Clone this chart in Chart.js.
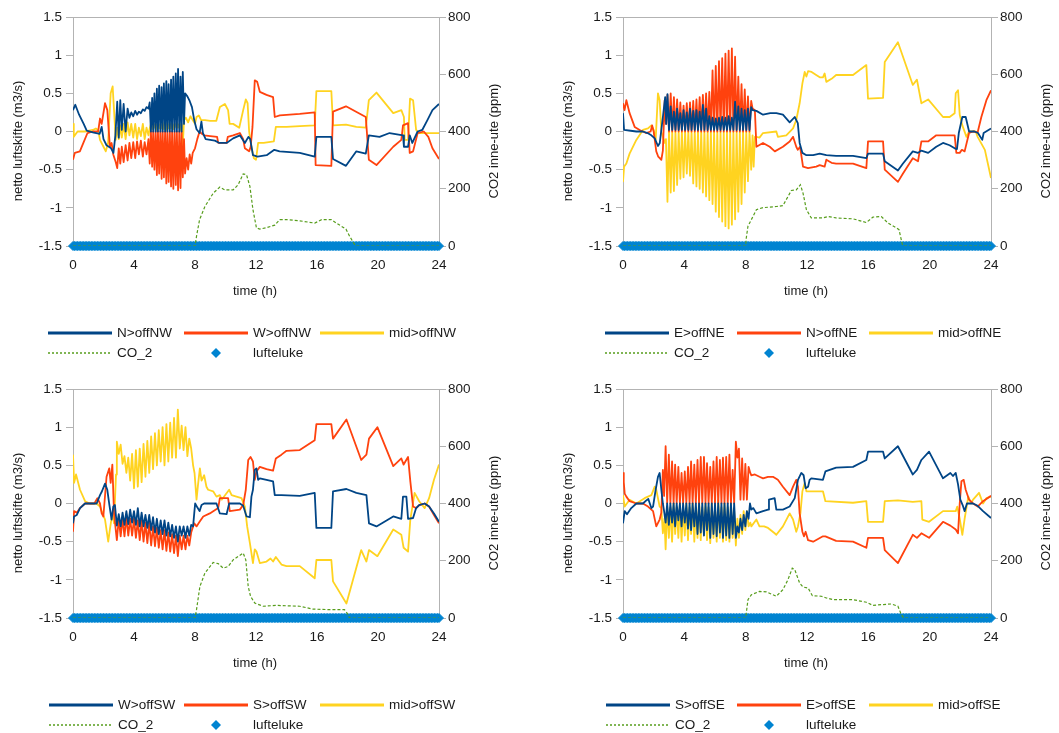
<!DOCTYPE html>
<html>
<head>
<meta charset="utf-8">
<script src="https://cdn.jsdelivr.net/npm/chart.js@4.4.1/dist/chart.umd.min.js"></script>
<style>
  html, body { margin: 0; padding: 0; background: #ffffff; overflow: hidden; }
  #wrap { position: relative; width: 1059px; height: 733px; }
  canvas { position: absolute; }
</style>
</head>
<body>
<div id="wrap">
  <canvas id="pNW" width="530" height="366" style="left:0px;top:0px"></canvas>
  <canvas id="pNE" width="509" height="366" style="left:550px;top:0px"></canvas>
  <canvas id="pSW" width="530" height="361" style="left:0px;top:372px"></canvas>
  <canvas id="pSE" width="509" height="361" style="left:550px;top:372px"></canvas>
</div>
<script>
// ---- axis ticks and titles ----
const HOUR_TICKS = [0, 4, 8, 12, 16, 20, 24];
const FLOW_TICKS = [-1.5, -1, -0.5, 0, 0.5, 1, 1.5];
const CO2_TICKS = [0, 200, 400, 600, 800];
const TIME_TITLE = 'time (h)';
const FLOW_TITLE = 'netto luftskifte (m3/s)';
const CO2_TITLE = 'CO2 inne-ute (ppm)';

// ---- legend labels per room ----
const NW_LABELS = ['N>offNW', 'W>offNW', 'mid>offNW', 'CO_2', 'lufteluke'];
const NE_LABELS = ['E>offNE', 'N>offNE', 'mid>offNE', 'CO_2', 'lufteluke'];
const SW_LABELS = ['W>offSW', 'S>offSW', 'mid>offSW', 'CO_2', 'lufteluke'];
const SE_LABELS = ['S>offSE', 'E>offSE', 'mid>offSE', 'CO_2', 'lufteluke'];

// ---- NW room: [hour, m3/s] and [hour, ppm] ----
const NW_N = [[0,0.28],[0.15,0.35],[0.4,0.22],[0.7,0.1],[0.9,0.01],[1.3,-0.01],[1.75,-0.03],[1.88,0.06],[2.0,-0.1],[2.2,-0.18],[2.5,-0.22],[2.65,-0.28],[2.78,-0.05],
 [2.9,0.39],[3.0,-0.08],[3.1,0.41],[3.2,0.02],[3.32,0.36],[3.45,0],[3.58,0.3],[3.7,0.18],[3.82,0.25],[3.95,0.2],[4.08,0.27],[4.2,0.22],[4.32,0.26],[4.45,0.24],[4.58,0.29],[4.7,0.27],[4.82,0.32],[4.95,0.3],
 [5.03,0.38],[5.11,0],[5.19,0.44],[5.26,0],[5.34,0.5],[5.42,0],[5.5,0.56],[5.57,0],[5.65,0.6],[5.73,0],[5.81,0.58],[5.88,0],[5.96,0.63],[6.04,0],[6.12,0.66],[6.19,0],[6.27,0.62],[6.35,0],[6.43,0.68],[6.5,0],[6.58,0.72],[6.66,0],[6.74,0.76],[6.81,0],[6.89,0.82],[6.97,0],[7.05,0.72],[7.12,0],[7.2,0.78],[7.28,0.1],
 [7.35,0.5],[7.5,0.46],[7.65,0.4],[7.8,0.32],[7.95,0.15],[8.1,0.03],[8.3,-0.02],[8.42,0.13],[8.52,-0.02],[8.7,-0.1],[9.0,-0.11],[9.3,-0.12],[9.6,-0.15],[10.07,-0.15],[10.5,-0.09],[10.94,-0.05],[11.27,-0.15],[11.5,-0.07],[11.62,-0.1],[11.8,-0.31],[12.1,-0.33],[12.7,-0.31],[13.2,-0.24],[13.55,-0.26],[14.87,-0.28],[15.85,-0.33],[15.96,-0.07],[16.94,-0.07],[17.05,-0.36],[17.9,-0.45],[18.58,-0.26],[19.2,-0.29],[19.4,-0.05],[20.1,-0.07],[20.76,-0.02],[21.64,-0.05],[21.7,-0.2],[21.97,-0.2],[22.08,-0.05],[22.25,-0.15],[22.6,0],[22.9,0.02],[23.24,0.15],[23.57,0.28],[24,0.36]];
const NW_W = [[0,-0.37],[0.12,-0.28],[0.45,-0.26],[0.68,-0.15],[0.95,-0.02],[1.3,0],[1.65,0],[1.77,0.17],[1.88,0.1],[2.1,0.37],[2.25,0.28],[2.42,-0.2],[2.53,-0.15],[2.64,-0.3],[2.8,-0.4],
 [2.9,-0.48],[3.0,-0.22],[3.1,-0.42],[3.2,-0.2],[3.32,-0.4],[3.45,-0.18],[3.58,-0.38],[3.7,-0.15],[3.82,-0.35],[3.95,-0.14],[4.08,-0.35],[4.2,-0.13],[4.32,-0.3],[4.45,-0.12],[4.58,-0.33],[4.7,-0.14],[4.82,-0.3],[4.95,-0.1],
 [5.03,-0.42],[5.11,0],[5.19,-0.46],[5.26,0],[5.34,-0.5],[5.42,0],[5.5,-0.57],[5.57,0],[5.65,-0.55],[5.73,0],[5.81,-0.62],[5.88,0],[5.96,-0.6],[6.04,0],[6.12,-0.68],[6.19,0],[6.27,-0.66],[6.35,0],[6.43,-0.72],[6.5,0],[6.58,-0.75],[6.66,0],[6.74,-0.7],[6.81,0],[6.89,-0.77],[6.97,0],[7.05,-0.74],[7.12,0],[7.2,-0.6],[7.28,-0.1],
 [7.35,-0.55],[7.45,-0.35],[7.55,-0.5],[7.65,-0.3],[7.75,-0.42],[7.85,-0.28],[8.0,-0.22],[8.15,-0.1],[8.3,0],[8.45,-0.03],[8.6,-0.05],[9.0,-0.06],[9.45,-0.07],[9.52,-0.15],[10.07,-0.15],[10.15,-0.07],[10.5,-0.05],[10.94,-0.02],[11.16,-0.1],[11.27,-0.22],[11.55,-0.26],[11.65,-0.2],[11.77,0.06],[11.92,0.67],[12.08,0.65],[12.25,0.52],[12.69,0.48],[13.12,0.45],[13.23,0.19],[13.56,0.21],[14.87,0.23],[15.85,0.25],[15.91,-0.44],[16.94,-0.45],[17.05,0.26],[17.9,0.33],[19.2,0.19],[19.4,-0.37],[19.9,-0.44],[21.0,-0.2],[21.53,-0.11],[21.64,0.08],[21.97,0.11],[22.08,-0.28],[22.3,-0.26],[22.6,-0.02],[23.0,0],[23.3,-0.07],[23.57,-0.22],[24,-0.36]];
const NW_MID = [[0,0.1],[0.05,-0.07],[0.3,0],[0.8,0],[1.3,0.02],[1.5,0.04],[1.65,0.02],[1.77,-0.11],[2.0,-0.2],[2.15,-0.26],[2.3,-0.15],[2.47,0.5],[2.6,0.59],[2.69,0.28],[2.8,-0.11],
 [2.9,0.05],[3.0,-0.1],[3.1,0.08],[3.2,-0.08],[3.32,0.1],[3.45,-0.1],[3.58,0.12],[3.7,-0.05],[3.82,0.1],[3.95,-0.08],[4.08,0.1],[4.2,-0.1],[4.32,0.05],[4.45,-0.06],[4.58,0.1],[4.7,-0.1],[4.82,0.05],[4.95,-0.05],
 [5.03,0.04],[5.11,0.1],[5.19,0.03],[5.26,0.12],[5.34,0.05],[5.42,0.1],[5.5,0.02],[5.57,0.12],[5.65,0.04],[5.73,0.1],[5.81,0.04],[5.88,0.12],[5.96,0.03],[6.04,0.1],[6.12,0.02],[6.19,0.12],[6.27,0.04],[6.35,0.1],[6.43,0.04],[6.5,0.12],[6.58,0.03],[6.66,0.1],[6.74,0.06],[6.81,0.12],[6.89,0.05],[6.97,0.1],[7.05,0.02],[7.12,0.1],[7.2,-0.18],[7.28,0.15],
 [7.4,0.18],[7.55,0.12],[7.7,0.2],[7.85,0.15],[8.0,0.1],[8.1,0.19],[8.25,0.21],[8.4,0.15],[8.65,0.15],[9.0,0.14],[9.4,0.14],[9.63,0.32],[9.96,0.36],[10.17,0.28],[10.27,0.1],[10.5,0.1],[10.9,0.05],[11.16,0.28],[11.33,0.42],[11.45,0.37],[11.55,0.0],[11.7,-0.2],[11.86,-0.35],[12.0,-0.37],[12.14,-0.15],[12.5,-0.15],[13.17,-0.13],[13.3,0.06],[14.0,0.06],[14.87,0.07],[15.85,0.08],[15.96,0.53],[16.94,0.53],[17.05,0.08],[17.9,0.09],[18.58,0.06],[19.2,0.05],[19.4,0.41],[19.9,0.51],[21.0,0.24],[21.53,0.28],[21.7,0.19],[21.75,-0.11],[21.97,-0.11],[22.1,0.43],[22.3,0.41],[22.5,0.02],[22.7,-0.02],[23.3,-0.02],[24,-0.02]];
const NW_CO2 = [[0,0],[8.0,0],[8.1,34],[8.3,92],[8.65,138],[9.2,185],[9.63,206],[9.96,196],[10.5,196],[10.83,214],[11.16,252],[11.38,249],[11.6,208],[11.8,127],[12.03,63],[12.25,59],[12.7,64],[13.23,73],[13.56,92],[14.0,92],[14.87,88],[15.85,80],[16.3,92],[16.94,92],[17.27,80],[17.9,59],[18.14,34],[18.47,5],[18.58,0],[24,0]];

// ---- NE room ----
const NE_E = [[0,0.24],[0.07,0.02],[0.5,0.01],[0.87,0],[1.3,0],[1.6,-0.02],[1.85,-0.05],[2.07,-0.09],[2.28,-0.19],[2.4,-0.15],[2.6,0.19],[2.75,0.45],[2.82,0.1],
 [2.9,0.49],[3.0,0.02],[3.11,0.33],[3.21,0.02],[3.32,0.26],[3.42,0.02],[3.53,0.3],[3.63,0.02],[3.74,0.24],[3.84,0.02],[3.95,0.28],[4.05,0.02],[4.16,0.25],[4.26,0.02],[4.37,0.3],[4.47,0.02],[4.58,0.27],[4.68,0.02],[4.79,0.28],[4.89,0.02],[5.0,0.26],[5.1,0.02],[5.21,0.35],[5.31,0.02],[5.42,0.3],[5.52,0.02],[5.63,0.2],[5.73,0.02],[5.84,0.18],[5.94,0.02],[6.05,0.17],[6.15,0.02],[6.26,0.18],[6.36,0.02],[6.47,0.19],[6.57,0.02],[6.68,0.18],[6.78,0.02],[6.89,0.2],[6.99,0.02],[7.1,0.18],[7.2,0.02],[7.31,0.39],[7.41,0.02],[7.52,0.33],[7.62,0.02],[7.73,0.3],[7.83,0.02],[7.94,0.28],[8.04,0.02],[8.15,0.3],[8.25,0.02],[8.36,0.32],
 [8.45,0.28],[8.7,0.27],[9.13,0.22],[9.6,0.24],[10.0,0.24],[10.43,0.22],[10.87,0.12],[11.2,0.19],[11.4,0.11],[11.52,-0.15],[11.7,-0.28],[11.96,-0.31],[12.4,-0.31],[12.83,-0.29],[13.26,-0.31],[13.9,-0.32],[15.0,-0.32],[15.87,-0.35],[15.98,-0.29],[16.96,-0.29],[17.07,-0.39],[17.93,-0.51],[18.26,-0.42],[18.9,-0.26],[19.24,-0.28],[19.46,-0.25],[19.9,-0.28],[20.43,-0.2],[20.87,-0.15],[21.3,-0.18],[21.63,-0.22],[21.78,-0.23],[21.9,-0.02],[22.13,0.19],[22.35,0.19],[22.57,0],[22.93,0],[23.15,-0.02],[23.43,-0.11],[23.52,-0.02],[24,0.04]];
const NE_N = [[0,0.37],[0.1,0.28],[0.22,0.41],[0.43,0.24],[0.76,0.06],[1.09,0.02],[1.5,-0.02],[1.8,0],[1.9,0.08],[2.0,0],[2.17,-0.26],[2.3,-0.33],[2.5,-0.37],[2.6,-0.25],[2.72,0.41],[2.8,0.1],
 [2.9,0.48],[3.0,0],[3.11,0.5],[3.21,0],[3.32,0.45],[3.42,0],[3.53,0.42],[3.63,0],[3.74,0.38],[3.84,0],[3.95,0.34],[4.05,0],[4.16,0.37],[4.26,0],[4.37,0.38],[4.47,0],[4.58,0.4],[4.68,0],[4.79,0.42],[4.89,0],[5.0,0.45],[5.1,0],[5.21,0.48],[5.31,0],[5.42,0.5],[5.52,0],[5.63,0.52],[5.73,0],[5.84,0.8],[5.94,0],[6.05,0.86],[6.15,0],[6.26,0.92],[6.36,0],[6.47,0.96],[6.57,0],[6.68,1.02],[6.78,0],[6.89,1.06],[6.99,0],[7.1,1.09],[7.2,0],[7.31,0.98],[7.41,0],[7.52,0.72],[7.62,0],[7.73,0.62],[7.83,0],[7.94,0.55],[8.04,0],[8.15,0.46],[8.25,0],[8.36,0.4],
 [8.45,0.3],[8.6,0.28],[8.7,-0.2],[9.13,-0.15],[9.57,-0.2],[9.9,-0.26],[10.43,-0.2],[10.87,-0.13],[11.09,-0.07],[11.3,-0.2],[11.4,-0.24],[11.55,-0.2],[11.74,-0.46],[12.07,-0.48],[12.6,-0.46],[12.83,-0.44],[13.15,-0.46],[13.26,-0.37],[13.6,-0.41],[13.9,-0.42],[15.0,-0.42],[15.87,-0.48],[15.98,-0.13],[16.96,-0.13],[17.07,-0.5],[17.93,-0.66],[18.26,-0.55],[18.9,-0.35],[19.24,-0.39],[19.46,-0.13],[19.9,-0.13],[20.43,-0.05],[21.63,-0.05],[21.74,-0.28],[21.96,-0.28],[22.1,-0.24],[22.28,-0.26],[22.57,-0.02],[22.83,0],[23.13,-0.01],[23.37,0.19],[23.7,0.41],[24,0.54]];
const NE_MID = [[0,-0.66],[0.07,-0.46],[0.22,-0.42],[0.43,-0.29],[0.87,-0.11],[1.3,0.02],[1.63,0.04],[1.85,0.08],[2.0,0.02],[2.13,-0.11],[2.28,0.5],[2.39,0.41],[2.5,0],[2.72,-0.15],[2.8,-0.1],
 [2.9,-0.92],[3.0,0],[3.11,-0.8],[3.21,0],[3.32,-0.78],[3.42,0],[3.53,-0.7],[3.63,0],[3.74,-0.62],[3.84,0],[3.95,-0.6],[4.05,0],[4.16,-0.55],[4.26,0],[4.37,-0.58],[4.47,0],[4.58,-0.68],[4.68,0],[4.79,-0.72],[4.89,0],[5.0,-0.75],[5.1,0],[5.21,-0.8],[5.31,0],[5.42,-0.85],[5.52,0],[5.63,-0.9],[5.73,0],[5.84,-0.95],[5.94,0],[6.05,-1.05],[6.15,0],[6.26,-1.12],[6.36,0],[6.47,-1.18],[6.57,0],[6.68,-1.24],[6.78,0],[6.89,-1.27],[6.99,0],[7.1,-1.22],[7.2,0],[7.31,-1.15],[7.41,0],[7.52,-1.05],[7.62,0],[7.73,-0.95],[7.83,0],[7.94,-0.8],[8.04,0],[8.15,-0.65],[8.25,0],[8.36,-0.5],
 [8.45,-0.05],[8.52,-0.46],[8.6,-0.07],[8.7,-0.07],[8.9,-0.08],[9.13,-0.02],[10.0,0],[10.1,-0.07],[10.65,-0.05],[11.09,0.04],[11.3,0.15],[11.52,0.37],[11.7,0.63],[11.85,0.78],[11.96,0.72],[12.07,0.79],[12.3,0.78],[12.6,0.74],[12.83,0.71],[13.04,0.71],[13.15,0.76],[13.26,0.65],[13.6,0.69],[13.9,0.74],[15.0,0.74],[15.87,0.87],[15.98,0.43],[16.96,0.44],[17.07,0.91],[17.93,1.17],[18.26,0.98],[18.9,0.61],[19.17,0.68],[19.46,0.37],[19.9,0.42],[20.87,0.19],[21.3,0.19],[21.63,0.24],[21.7,0.5],[21.85,0.54],[21.96,0.22],[22.13,0.08],[22.4,-0.07],[22.57,0],[23.0,0],[23.13,-0.07],[23.6,-0.24],[24,-0.61]];
const NE_CO2 = [[0,0],[8.0,0],[8.04,28],[8.15,69],[8.37,92],[8.7,127],[9.13,134],[9.57,136],[10.0,138],[10.43,141],[10.98,194],[11.3,196],[11.57,214],[11.74,185],[11.96,127],[12.28,98],[13.04,98],[13.37,103],[13.9,98],[15.0,95],[15.87,82],[16.3,101],[16.85,103],[17.28,80],[17.83,63],[18.0,57],[18.22,5],[18.3,0],[24,0]];

// ---- SW room ----
const SW_W = [[0,-0.26],[0.07,-0.17],[0.25,-0.15],[0.46,-0.06],[0.79,0],[1.2,0],[1.55,0],[1.77,0.11],[1.9,0.16],[2.1,0.26],[2.25,0.18],[2.38,-0.01],[2.53,-0.21],[2.64,-0.04],[2.75,-0.02],
 [2.875,-0.29],[3.0,-0.14],[3.125,-0.3],[3.25,-0.12],[3.375,-0.28],[3.5,-0.1],[3.625,-0.27],[3.75,-0.08],[3.875,-0.25],[4.0,-0.1],[4.125,-0.28],[4.25,-0.06],[4.375,-0.3],[4.5,-0.12],[4.625,-0.3],[4.75,-0.15],[4.875,-0.32],[5.0,-0.15],[5.125,-0.35],[5.25,-0.18],[5.375,-0.38],[5.5,-0.2],[5.625,-0.4],[5.75,-0.22],[5.875,-0.4],[6.0,-0.22],[6.125,-0.42],[6.25,-0.25],[6.375,-0.43],[6.5,-0.28],[6.625,-0.45],[6.75,-0.3],[6.875,-0.5],[7.0,-0.3],[7.125,-0.42],[7.25,-0.3],[7.375,-0.45],[7.5,-0.3],[7.625,-0.42],[7.75,-0.28],[7.875,-0.3],
 [7.95,-0.13],[8.01,0],[8.15,-0.05],[8.3,-0.1],[8.43,-0.02],[8.6,0],[9.41,0],[9.63,-0.13],[10.07,-0.14],[10.24,0],[10.94,0],[11.16,-0.03],[11.38,-0.17],[11.6,-0.18],[11.7,0.09],[11.8,0.18],[11.92,0.44],[12.03,0.46],[12.14,0.31],[12.25,0.33],[12.69,0.31],[13.12,0.29],[13.23,0.11],[13.67,0.11],[14.87,0.1],[15.85,0.14],[15.96,-0.32],[16.94,-0.32],[17.05,0.16],[17.93,0.19],[18.58,0.14],[19.24,0.11],[19.41,-0.26],[19.9,-0.3],[21.0,-0.17],[21.53,-0.2],[21.64,0.09],[21.86,0.09],[21.97,-0.2],[22.3,-0.19],[22.5,-0.06],[22.7,-0.02],[23.06,0],[23.35,-0.04],[23.67,-0.13],[24,-0.24]];
const SW_S = [[0,-0.37],[0.07,-0.1],[0.25,-0.12],[0.46,-0.06],[0.79,0],[1.4,0],[1.6,0.07],[1.77,0],[1.88,-0.13],[1.99,-0.17],[2.2,0.35],[2.38,0.46],[2.47,0.27],[2.58,0.51],[2.69,-0.13],[2.8,-0.34],
 [2.875,-0.48],[3.0,-0.2],[3.125,-0.43],[3.25,-0.2],[3.375,-0.43],[3.5,-0.18],[3.625,-0.42],[3.75,-0.2],[3.875,-0.42],[4.0,-0.2],[4.125,-0.45],[4.25,-0.22],[4.375,-0.48],[4.5,-0.22],[4.625,-0.5],[4.75,-0.25],[4.875,-0.52],[5.0,-0.25],[5.125,-0.55],[5.25,-0.3],[5.375,-0.56],[5.5,-0.32],[5.625,-0.58],[5.75,-0.35],[5.875,-0.6],[6.0,-0.35],[6.125,-0.62],[6.25,-0.38],[6.375,-0.63],[6.5,-0.4],[6.625,-0.65],[6.75,-0.42],[6.875,-0.69],[7.0,-0.42],[7.125,-0.6],[7.25,-0.42],[7.375,-0.6],[7.5,-0.42],[7.625,-0.55],[7.75,-0.38],[7.875,-0.3],
 [7.95,-0.26],[8.1,-0.3],[8.3,-0.24],[8.54,-0.17],[8.97,-0.13],[9.52,-0.06],[9.63,0.07],[10.17,0.07],[10.28,-0.1],[10.94,-0.08],[11.16,-0.02],[11.33,0.18],[11.49,0.57],[11.64,0.61],[11.8,0.55],[11.92,0.31],[12.03,0.42],[12.25,0.48],[12.69,0.45],[13.12,0.43],[13.3,0.59],[13.67,0.64],[14.0,0.69],[14.87,0.7],[15.85,0.83],[15.96,1.04],[16.94,1.04],[17.05,0.85],[17.93,1.1],[18.9,0.57],[19.24,0.64],[19.41,0.85],[19.96,1.0],[21.0,0.49],[21.53,0.59],[21.68,0.51],[21.97,0.61],[22.12,0.29],[22.3,-0.04],[22.5,-0.06],[22.7,-0.02],[23.06,0],[23.35,-0.04],[23.67,-0.15],[24,-0.26]];
const SW_MID = [[0,0.64],[0.07,0.27],[0.2,0.38],[0.46,0.18],[0.79,0.03],[1.1,0],[1.55,0],[1.77,-0.04],[1.88,-0.1],[2.1,-0.21],[2.31,-0.5],[2.42,-0.34],[2.58,-0.13],[2.69,-0.26],[2.82,0.38],
 [2.875,0.81],[3.0,0.65],[3.125,0.77],[3.25,0.52],[3.375,0.62],[3.5,0.4],[3.625,0.6],[3.75,0.3],[3.875,0.65],[4.0,0.2],[4.125,0.7],[4.25,0.22],[4.375,0.72],[4.5,0.28],[4.625,0.78],[4.75,0.35],[4.875,0.82],[5.0,0.4],[5.125,0.88],[5.25,0.45],[5.375,0.92],[5.5,0.5],[5.625,0.96],[5.75,0.55],[5.875,1.0],[6.0,0.5],[6.125,1.04],[6.25,0.55],[6.375,1.06],[6.5,0.6],[6.625,1.12],[6.75,0.6],[6.875,1.23],[7.0,0.72],[7.125,1.02],[7.25,0.7],[7.375,1.0],[7.5,0.62],[7.625,0.85],[7.75,0.72],[7.875,0.5],
 [7.97,0.4],[8.1,0.05],[8.2,0.25],[8.32,0.46],[8.43,0.3],[8.6,0.37],[8.75,0.22],[8.86,0.18],[9.19,0.16],[9.41,0.09],[9.63,0.11],[9.75,0.05],[10.24,0.18],[10.4,0.11],[10.72,0.09],[11.05,0.07],[11.27,-0.04],[11.42,-0.3],[11.6,-0.52],[11.8,-0.78],[11.92,-0.6],[12.03,-0.63],[12.25,-0.78],[12.69,-0.76],[12.95,-0.72],[13.12,-0.76],[13.3,-0.7],[13.67,-0.8],[14.0,-0.82],[14.87,-0.82],[15.85,-0.98],[15.96,-0.74],[16.94,-0.74],[17.05,-1.02],[17.93,-1.31],[18.9,-0.61],[19.24,-0.76],[19.41,-0.61],[19.96,-0.69],[21.0,-0.34],[21.53,-0.41],[21.68,-0.58],[21.97,-0.63],[22.12,-0.21],[22.4,0.14],[22.7,0.03],[23.06,-0.06],[23.35,0.07],[23.67,0.31],[24,0.51]];
const SW_CO2 = [[0,0],[8.0,0],[8.1,29],[8.32,110],[8.65,157],[9.19,194],[9.52,190],[9.85,174],[10.17,180],[10.5,203],[10.83,215],[11.16,227],[11.33,203],[11.49,110],[11.64,76],[11.92,52],[12.47,41],[13.34,44],[14.87,41],[15.74,31],[17.05,29],[17.8,29],[17.97,17],[18.1,3],[18.15,0],[24,0]];

// ---- SE room ----
const SE_S = [[0,-0.26],[0.11,-0.1],[0.26,-0.14],[0.54,-0.06],[0.87,0],[1.3,0],[1.52,0.04],[1.65,0.06],[1.85,-0.06],[1.96,-0.04],[2.13,0.18],[2.28,0.35],[2.39,0.4],[2.5,0.18],[2.6,0],[2.68,-0.1],
 [2.78,-0.25],[2.88,0],[2.99,-0.28],[3.09,0],[3.2,-0.25],[3.3,0],[3.4,-0.3],[3.5,0],[3.61,-0.22],[3.71,0],[3.82,-0.3],[3.92,0],[4.03,-0.25],[4.13,0],[4.24,-0.33],[4.34,0],[4.44,-0.35],[4.54,0],[4.65,-0.3],[4.75,0],[4.86,-0.4],[4.96,0],[5.07,-0.38],[5.17,0],[5.28,-0.42],[5.38,0],[5.48,-0.35],[5.58,0],[5.69,-0.45],[5.79,0],[5.9,-0.4],[6.0,0],[6.11,-0.43],[6.21,0],[6.32,-0.38],[6.42,0],[6.52,-0.45],[6.62,0],[6.73,-0.42],[6.83,0],[6.94,-0.45],[7.04,0],[7.15,-0.4],[7.25,0],[7.36,-0.45],[7.46,-0.3],[7.56,-0.38],[7.66,-0.2],[7.77,-0.35],[7.87,-0.15],[7.98,-0.3],[8.08,-0.1],[8.19,-0.2],
 [8.28,0],[8.37,-0.08],[8.5,-0.06],[8.7,-0.13],[9.13,-0.1],[9.46,-0.08],[9.52,0.05],[9.89,0.07],[10.0,-0.08],[10.43,-0.08],[10.87,-0.04],[11.2,0.07],[11.41,0.31],[11.63,0.4],[11.78,0.37],[11.91,0.2],[12.07,0.22],[12.17,0.31],[12.28,0.33],[13.04,0.31],[13.2,0.42],[13.9,0.47],[15.0,0.48],[15.87,0.57],[15.98,0.68],[16.96,0.68],[17.07,0.59],[17.93,0.75],[18.9,0.38],[19.17,0.44],[19.46,0.57],[19.96,0.68],[20.87,0.33],[21.35,0.4],[21.52,0.36],[21.7,0.4],[21.85,0.25],[22.0,0.05],[22.15,-0.02],[22.28,-0.1],[22.43,0],[22.83,0],[23.13,-0.03],[23.48,-0.1],[24,-0.19]];
const SE_E = [[0,0.4],[0.05,0.28],[0.11,0.13],[0.22,0.09],[0.43,0.03],[0.87,0],[1.3,0],[1.63,-0.04],[1.85,-0.08],[1.96,-0.1],[2.17,-0.3],[2.39,-0.21],[2.5,-0.12],[2.6,0.44],[2.68,0.1],
 [2.78,0.75],[2.88,0],[2.99,0.64],[3.09,0],[3.2,0.55],[3.3,0],[3.4,0.51],[3.5,0],[3.61,0.48],[3.71,0],[3.82,0.4],[3.92,0],[4.03,0.42],[4.13,0],[4.24,0.48],[4.34,0],[4.44,0.55],[4.54,0],[4.65,0.51],[4.75,0],[4.86,0.57],[4.96,0],[5.07,0.61],[5.17,0],[5.28,0.61],[5.38,0],[5.48,0.53],[5.58,0],[5.69,0.48],[5.79,0],[5.9,0.55],[6.0,0],[6.11,0.61],[6.21,0],[6.32,0.57],[6.42,0],[6.52,0.6],[6.62,0],[6.73,0.61],[6.83,0],[6.94,0.64],[7.04,0],[7.15,0.44],[7.25,0],[7.36,0.81],[7.46,0.6],[7.56,0.72],[7.66,0.05],[7.77,0.59],[7.87,0.05],[7.98,0.52],[8.08,0.05],[8.19,0.48],
 [8.3,0.4],[8.37,0.37],[8.6,0.38],[8.9,0.35],[9.13,0.33],[9.46,0.35],[9.78,0.35],[10.1,0.31],[10.43,0.22],[10.87,0.11],[11.09,0.22],[11.3,0.31],[11.41,0.22],[11.52,-0.13],[11.7,-0.37],[11.8,-0.43],[11.91,-0.37],[12.07,-0.48],[12.4,-0.5],[13.04,-0.43],[13.2,-0.43],[13.9,-0.49],[15.0,-0.5],[15.87,-0.58],[15.98,-0.45],[16.96,-0.45],[17.07,-0.61],[17.93,-0.78],[18.9,-0.41],[19.17,-0.45],[19.46,-0.39],[19.96,-0.45],[20.87,-0.24],[21.35,-0.29],[21.7,-0.34],[21.85,-0.39],[21.96,0],[22.07,0.29],[22.22,0.31],[22.35,0.18],[22.57,0.05],[22.83,0],[23.13,-0.04],[23.48,0.03],[24,0.1]];
const SE_MID = [[0,0.11],[0.11,-0.04],[0.43,0.05],[0.87,0],[1.41,0.07],[1.85,0.11],[2.07,0.22],[2.17,0.18],[2.39,-0.04],[2.5,-0.06],[2.6,-0.39],[2.7,-0.2],
 [2.78,-0.6],[2.88,-0.05],[2.99,-0.45],[3.09,-0.05],[3.2,-0.5],[3.3,0],[3.4,-0.4],[3.5,-0.05],[3.61,-0.45],[3.71,0],[3.82,-0.5],[3.92,-0.05],[4.03,-0.42],[4.13,0],[4.24,-0.48],[4.34,-0.05],[4.44,-0.4],[4.54,0],[4.65,-0.5],[4.75,-0.05],[4.86,-0.45],[4.96,0.05],[5.07,-0.48],[5.17,-0.05],[5.28,-0.42],[5.38,0],[5.48,-0.48],[5.58,-0.05],[5.69,-0.52],[5.79,0],[5.9,-0.45],[6.0,-0.05],[6.11,-0.5],[6.21,0.05],[6.32,-0.45],[6.42,-0.05],[6.52,-0.5],[6.62,0],[6.73,-0.48],[6.83,-0.05],[6.94,-0.5],[7.04,0],[7.15,-0.45],[7.25,-0.1],[7.36,-0.55],[7.46,-0.2],[7.56,-0.45],[7.66,-0.15],[7.77,-0.4],[7.87,-0.1],[7.98,-0.35],[8.08,-0.1],[8.19,-0.3],
 [8.3,-0.25],[8.37,-0.3],[8.7,-0.21],[8.9,-0.3],[9.2,-0.3],[9.46,-0.32],[9.89,-0.39],[10.0,-0.41],[10.43,-0.3],[10.87,-0.13],[11.09,-0.21],[11.3,-0.37],[11.41,-0.3],[11.57,-0.13],[11.7,0.16],[11.85,0.27],[11.96,0.16],[12.5,0.16],[13.04,0.16],[13.2,0.03],[15.0,0.01],[15.87,0.03],[15.98,-0.24],[16.96,-0.24],[17.07,0.03],[17.93,0.04],[18.9,0.02],[19.46,0.03],[19.52,-0.21],[19.96,-0.24],[20.87,-0.1],[21.7,-0.1],[21.8,-0.04],[21.96,-0.2],[22.13,-0.41],[22.28,-0.2],[22.52,0.09],[22.7,0],[22.83,0.05],[23.22,0.14],[23.48,0],[23.7,0.07],[24,0.09]];
const SE_CO2 = [[0,0],[8.0,0],[8.15,64],[8.37,81],[8.9,93],[9.35,91],[10.0,76],[10.43,99],[10.76,134],[11.04,174],[11.2,169],[11.52,122],[11.74,108],[12.07,105],[12.35,78],[12.93,76],[13.26,70],[13.7,64],[15.0,64],[15.87,55],[16.3,44],[16.96,47],[17.5,49],[17.93,41],[18.15,12],[18.3,0],[24,0]];

// ---- vent hatch log (closed all day, ppm axis) ----
const VENT_LEVEL = 0;
const VENT_T = [0,0.1,0.2,0.3,0.4,0.5,0.6,0.7,0.8,0.9,1,1.1,1.2,1.3,1.4,1.5,1.6,1.7,1.8,1.9,
 2,2.1,2.2,2.3,2.4,2.5,2.6,2.7,2.8,2.9,3,3.1,3.2,3.3,3.4,3.5,3.6,3.7,3.8,3.9,
 4,4.1,4.2,4.3,4.4,4.5,4.6,4.7,4.8,4.9,5,5.1,5.2,5.3,5.4,5.5,5.6,5.7,5.8,5.9,
 6,6.1,6.2,6.3,6.4,6.5,6.6,6.7,6.8,6.9,7,7.1,7.2,7.3,7.4,7.5,7.6,7.7,7.8,7.9,
 8,8.1,8.2,8.3,8.4,8.5,8.6,8.7,8.8,8.9,9,9.1,9.2,9.3,9.4,9.5,9.6,9.7,9.8,9.9,
 10,10.1,10.2,10.3,10.4,10.5,10.6,10.7,10.8,10.9,11,11.1,11.2,11.3,11.4,11.5,11.6,11.7,11.8,11.9,
 12,12.1,12.2,12.3,12.4,12.5,12.6,12.7,12.8,12.9,13,13.1,13.2,13.3,13.4,13.5,13.6,13.7,13.8,13.9,
 14,14.1,14.2,14.3,14.4,14.5,14.6,14.7,14.8,14.9,15,15.1,15.2,15.3,15.4,15.5,15.6,15.7,15.8,15.9,
 16,16.1,16.2,16.3,16.4,16.5,16.6,16.7,16.8,16.9,17,17.1,17.2,17.3,17.4,17.5,17.6,17.7,17.8,17.9,
 18,18.1,18.2,18.3,18.4,18.5,18.6,18.7,18.8,18.9,19,19.1,19.2,19.3,19.4,19.5,19.6,19.7,19.8,19.9,
 20,20.1,20.2,20.3,20.4,20.5,20.6,20.7,20.8,20.9,21,21.1,21.2,21.3,21.4,21.5,21.6,21.7,21.8,21.9,
 22,22.1,22.2,22.3,22.4,22.5,22.6,22.7,22.8,22.9,23,23.1,23.2,23.3,23.4,23.5,23.6,23.7,23.8,23.9,24];

// ---- styling ----
const FAMILY = "'Liberation Sans', Arial, sans-serif";
const TEXT = '#1a1a1a';
const AXIS = '#b3b3b3';
const BLUE = '#004586', ORANGE = '#ff420e', YELLOW = '#ffd320', GREEN = '#579d1c', VENT = '#0084d1';
const PLOT_TOP = 17, PLOT_H = 229, LEFT_W = 73;

const toXY = arr => arr.map(([x, y]) => ({ x, y }));

// frame, axis titles and the grid-style legend under the plot
const decor = {
  id: 'decor',
  beforeDatasetsDraw(chart) {
    const a = chart.chartArea, ctx = chart.ctx;
    ctx.save();
    ctx.strokeStyle = AXIS;
    ctx.lineWidth = 1;
    ctx.strokeRect(Math.round(a.left) + 0.5, Math.round(a.top) + 0.5,
                   Math.round(a.right - a.left), Math.round(a.bottom - a.top));
    ctx.restore();
  },
  afterDraw(chart) {
    const a = chart.chartArea, ctx = chart.ctx;
    ctx.save();
    ctx.fillStyle = TEXT;
    ctx.font = '13px ' + FAMILY;
    ctx.textAlign = 'center';
    ctx.textBaseline = 'middle';
    const midY = (a.top + a.bottom) / 2 + 9.5;
    ctx.save(); ctx.translate(18, midY); ctx.rotate(-Math.PI / 2); ctx.fillText(FLOW_TITLE, 0, 0); ctx.restore();
    ctx.save(); ctx.translate(a.right + 55, midY); ctx.rotate(-Math.PI / 2); ctx.fillText(CO2_TITLE, 0, 0); ctx.restore();
    ctx.fillText(TIME_TITLE, (a.left + a.right) / 2 - 1, a.bottom + 45.5);

    ctx.font = '13.5px ' + FAMILY;
    const ds = chart.data.datasets;
    const maxW = Math.max(...ds.map(d => ctx.measureText(d.label).width));
    const colW = 69 + maxW;
    const x0 = (a.left + a.right) / 2 - 4 - 1.5 * colW;
    ds.forEach((d, i) => {
      const x = Math.round(x0 + (i % 3) * colW);
      const y = Math.round(a.bottom + 87 + Math.floor(i / 3) * 20);
      if (d.showLine === false) {
        ctx.fillStyle = d.backgroundColor;
        ctx.beginPath();
        ctx.moveTo(x + 32, y - 5); ctx.lineTo(x + 37, y); ctx.lineTo(x + 32, y + 5); ctx.lineTo(x + 27, y);
        ctx.closePath(); ctx.fill();
      } else {
        ctx.strokeStyle = d.borderColor;
        ctx.lineWidth = d.borderDash ? 1.3 : 3;
        ctx.setLineDash(d.borderDash ? [2, 2] : []);
        ctx.beginPath();
        ctx.moveTo(x, y); ctx.lineTo(x + 64, y); ctx.stroke();
        ctx.setLineDash([]);
      }
      ctx.fillStyle = TEXT;
      ctx.textAlign = 'left';
      ctx.fillText(d.label, x + 69, y + 0.5);
    });
    ctx.restore();
  }
};

function drawRoom(canvasId, labels, s1, s2, s3, co2) {
  const cv = document.getElementById(canvasId);
  const W = cv.width, H = cv.height;
  const rightW = W === 530 ? 91 : 68;
  const flowLine = (label, data, color) => ({
    label, data: toXY(data), borderColor: color, backgroundColor: color,
    borderWidth: 1.8, pointRadius: 0, tension: 0, yAxisID: 'y', borderJoinStyle: 'round'
  });
  const tickFont = { family: FAMILY, size: 13.5 };
  new Chart(cv.getContext('2d'), {
    type: 'line',
    data: {
      datasets: [
        flowLine(labels[0], s1, BLUE),
        flowLine(labels[1], s2, ORANGE),
        flowLine(labels[2], s3, YELLOW),
        { label: labels[3], data: toXY(co2), borderColor: GREEN, backgroundColor: GREEN,
          borderWidth: 1.2, borderDash: [3, 2], pointRadius: 0, tension: 0, yAxisID: 'y2' },
        { label: labels[4], data: VENT_T.map(t => ({ x: t, y: VENT_LEVEL })), showLine: false,
          pointStyle: 'rectRot', pointRadius: 4.5, pointBorderWidth: 1,
          backgroundColor: VENT, borderColor: VENT, pointBackgroundColor: VENT, pointBorderColor: VENT,
          yAxisID: 'y2', clip: false }
      ]
    },
    options: {
      responsive: false, animation: false, devicePixelRatio: 1,
      layout: { padding: { top: PLOT_TOP, left: 0, right: 0, bottom: 0 } },
      plugins: { legend: { display: false }, tooltip: { enabled: false } },
      events: [],
      scales: {
        x: {
          type: 'linear', min: 0, max: 24,
          afterBuildTicks: s => { s.ticks = HOUR_TICKS.map(v => ({ value: v })); },
          ticks: { color: TEXT, font: tickFont, padding: 11, maxRotation: 0, autoSkip: false },
          grid: { display: false, drawTicks: false },
          border: { display: false },
          afterFit: s => { s.height = H - PLOT_TOP - PLOT_H; }
        },
        y: {
          position: 'left', min: -1.5, max: 1.5,
          afterBuildTicks: s => { s.ticks = FLOW_TICKS.map(v => ({ value: v })); },
          ticks: { color: TEXT, font: tickFont, padding: 4, callback: v => String(v) },
          grid: { drawOnChartArea: false, drawTicks: true, tickLength: 7, color: AXIS },
          border: { display: false },
          afterFit: s => { s.width = LEFT_W; }
        },
        y2: {
          position: 'right', min: 0, max: 800,
          afterBuildTicks: s => { s.ticks = CO2_TICKS.map(v => ({ value: v })); },
          ticks: { color: TEXT, font: tickFont, padding: 2, callback: v => String(v) },
          grid: { drawOnChartArea: false, drawTicks: true, tickLength: 7, color: AXIS },
          border: { display: false },
          afterFit: s => { s.width = rightW; }
        }
      }
    },
    plugins: [decor]
  });
}

drawRoom('pNW', NW_LABELS, NW_N, NW_W, NW_MID, NW_CO2);
drawRoom('pNE', NE_LABELS, NE_E, NE_N, NE_MID, NE_CO2);
drawRoom('pSW', SW_LABELS, SW_W, SW_S, SW_MID, SW_CO2);
drawRoom('pSE', SE_LABELS, SE_S, SE_E, SE_MID, SE_CO2);
</script>
</body>
</html>
